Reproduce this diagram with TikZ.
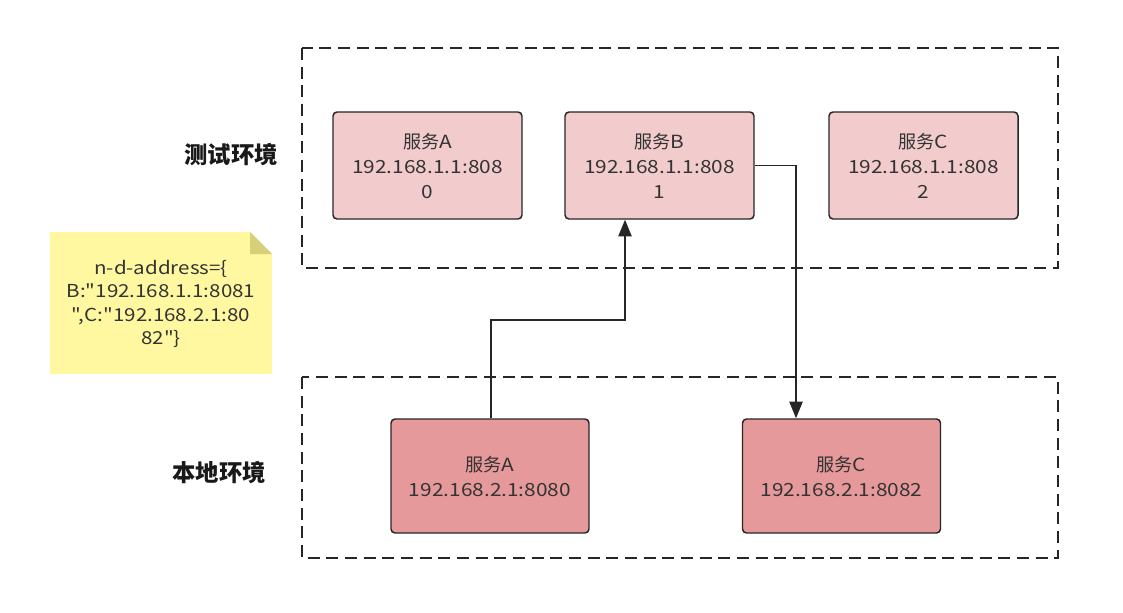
\documentclass[tikz,border=0pt]{standalone}
\usepackage{fontspec}
\newfontfamily\yh{Noto Sans CJK SC}
\newfontfamily\lat{Noto Sans CJK SC}[FakeStretch=1.15]
\newcommand\cj[1]{{\yh #1}}
\usetikzlibrary{arrows.meta}
\definecolor{txt}{HTML}{333333}
\definecolor{topfill}{HTML}{F2CCCC}
\definecolor{botfill}{HTML}{E6999B}
\definecolor{notefill}{HTML}{FFF8A0}
\definecolor{notefold}{HTML}{D6D07A}
\begin{document}
\begin{tikzpicture}[x=0.75pt,y=-0.75pt,
  envbox/.style={draw=black!85,line width=1.2pt,dash pattern=on 9pt off 5pt},
  svc/.style={draw=black!85,line width=1.1pt,rounded corners=3pt,text=txt,align=center,
    font=\lat\fontsize{13.6}{18.75}\selectfont,inner sep=0pt},
  topsvc/.style={svc,fill=topfill,minimum width=189*0.75pt,minimum height=107*0.75pt},
  botsvc/.style={svc,fill=botfill,minimum width=198*0.75pt,minimum height=114*0.75pt},
  envlabel/.style={text=black!90,font=\yh\fontsize{17.5}{20}\selectfont\bfseries},
  notetext/.style={text=txt,align=center,font=\lat\fontsize{13.4}{17.6}\selectfont},
  conn/.style={draw=black!85,line width=1.1pt,-{Triangle[length=12.5pt,width=10pt]}}]
\useasboundingbox (0,0) rectangle (1123,613);
% environments
\draw[envbox] (302,48) rectangle (1058,268);
\draw[envbox] (302,377) rectangle (1058,558);
\node[envlabel] (lt) at (231,155) {测试环境};
\node[envlabel] (lb) at (219,473) {本地环境};
% note
\fill[notefill] (50,232) -- (250,232) -- (272,254) -- (272,374) -- (50,374) -- cycle;
\fill[notefold] (250,232) -- (272,254) -- (250,254) -- cycle;
\node[notetext] (note) at (161,304)
  {n-d-address=\{\\B:"192.168.1.1:8081\\",C:"192.168.2.1:80\\82"\}};
% services
\node[topsvc] (ta) at (427.5,165.5) {\cj{服务}A\\192.168.1.1:808\\0};
\node[topsvc] (tb) at (659.5,165.5) {\cj{服务}B\\192.168.1.1:808\\1};
\node[topsvc] (tc) at (923.5,165.5) {\cj{服务}C\\192.168.1.1:808\\2};
\node[botsvc] (ba) at (490,476) {\cj{服务}A\\192.168.2.1:8080};
\node[botsvc] (bc) at (841.5,476) {\cj{服务}C\\192.168.2.1:8082};
% connectors
\coordinate (p1) at (491,320);
\coordinate (p2) at (625,320);
\draw[conn] (ba.north -| p1) -- (p1) -- (p2) -- (p2 |- tb.south);
\coordinate (q1) at (796,165.5);
\draw[conn] (tb.east) -- (q1) -- (q1 |- bc.north);
\end{tikzpicture}
\end{document}
